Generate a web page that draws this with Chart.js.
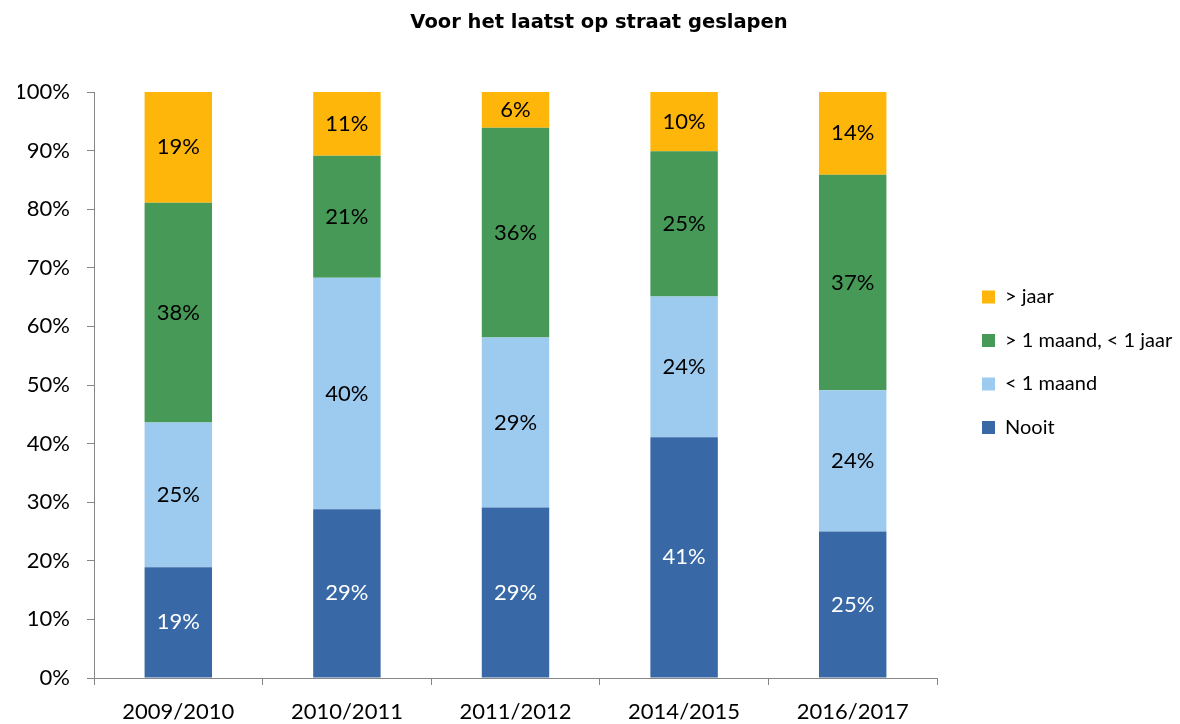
<!DOCTYPE html>
<html>
<head>
<meta charset="utf-8">
<script src="https://cdn.jsdelivr.net/npm/chart.js@4"></script>
<style>
    html, body { margin: 0; padding: 0; background: #ffffff; }
    canvas { display: block; }
</style>
</head>
<body>
<canvas id="grafiek" width="1180" height="724"></canvas>
<script>
// Gegevens
const jaren = ['2009/2010', '2010/2011', '2011/2012', '2014/2015', '2016/2017'];
const nooit = [18.9, 28.8, 29.1, 41.1, 25.0];
const minderDanMaand = [24.7, 39.5, 29.0, 24.0, 24.1];
const maandTotJaar = [37.5, 20.8, 35.8, 24.8, 36.8];
const meerDanJaar = [18.9, 10.9, 6.1, 10.1, 14.1];
const yTicks = [0, 10, 20, 30, 40, 50, 60, 70, 80, 90, 100];

const grijs = '#868686';
const lettertype = "Lato, 'Open Sans', sans-serif";

// Percentages midden in elk blok
const labelsInBlok = {
    id: 'labelsInBlok',
    afterDatasetsDraw(chart) {
        const ctx = chart.ctx;
        ctx.save();
        ctx.font = '22px ' + lettertype;
        ctx.textAlign = 'center';
        ctx.textBaseline = 'middle';
        chart.data.datasets.forEach((ds, i) => {
            const meta = chart.getDatasetMeta(i);
            meta.data.forEach((bar, j) => {
                ctx.fillStyle = ds.labelKleur;
                ctx.fillText(Math.round(ds.data[j]) + '%', bar.x, (bar.y + bar.base) / 2);
            });
        });
        ctx.restore();
    }
};

// Legenda: vaste breedte en plek
const legendaPlek = {
    id: 'legendaPlek',
    afterInit(chart) {
        const lg = chart.legend;
        const fit = lg.fit.bind(lg);
        lg.fit = function () {
            fit();
            this.width = 243;
        };
    },
    afterLayout(chart) {
        const lg = chart.legend;
        lg.left = 958.5;
        lg.right = 1180;
        lg.top = 263.5;
    }
};

new Chart(document.getElementById('grafiek'), {
    type: 'bar',
    data: {
        labels: jaren,
        datasets: [
            { label: 'Nooit', data: nooit, backgroundColor: '#3868a6', labelKleur: '#ffffff' },
            { label: '< 1 maand', data: minderDanMaand, backgroundColor: '#9dcbf0', labelKleur: '#000000' },
            { label: '> 1 maand, < 1 jaar', data: maandTotJaar, backgroundColor: '#479957', labelKleur: '#000000' },
            { label: '> jaar', data: meerDanJaar, backgroundColor: '#ffb60b', labelKleur: '#000000' }
        ]
    },
    options: {
        responsive: false,
        animation: false,
        layout: { padding: { left: 18, right: 0, top: 0, bottom: 0 } },
        datasets: {
            bar: { barPercentage: 0.4, categoryPercentage: 1 }
        },
        plugins: {
            title: {
                display: true,
                text: 'Voor het laatst op straat geslapen',
                color: '#000000',
                font: { family: "'DejaVu Sans', Verdana, sans-serif", size: 19.5, weight: 'bold' },
                padding: { top: 11, bottom: 57.6 }
            },
            legend: {
                position: 'right',
                align: 'start',
                reverse: true,
                labels: {
                    boxWidth: 13,
                    boxHeight: 13,
                    padding: 23.5,
                    color: '#000000',
                    font: { family: lettertype, size: 20 }
                }
            },
            tooltip: { enabled: false }
        },
        scales: {
            x: {
                stacked: true,
                afterFit(scale) { scale.height = 46; },
                grid: { offset: true, drawOnChartArea: false, drawTicks: true, tickLength: 7, color: grijs },
                border: { color: grijs, width: 1 },
                ticks: { color: '#000000', padding: 14, font: { family: lettertype, size: 22 } }
            },
            y: {
                stacked: true,
                min: 0,
                max: 100,
                afterFit(scale) { scale.width = 76; },
                afterBuildTicks(scale) { scale.ticks = yTicks.map(v => ({ value: v })); },
                grid: { drawOnChartArea: false, drawTicks: true, tickLength: 7, color: grijs },
                border: { color: grijs, width: 1 },
                ticks: {
                    color: '#000000',
                    padding: 17,
                    font: { family: lettertype, size: 22 },
                    callback: v => v + '%'
                }
            }
        }
    },
    plugins: [labelsInBlok, legendaPlek]
});
</script>
</body>
</html>
